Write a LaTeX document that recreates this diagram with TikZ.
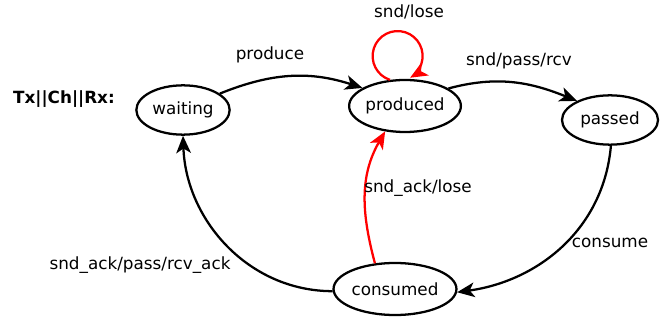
\documentclass[tikz,border=0pt]{standalone}
\usepackage{fontspec}
\setmainfont{DejaVu Sans}
\usetikzlibrary{shapes.geometric,arrows.meta}

\begin{document}
\begin{tikzpicture}[x=0.75pt,y=-0.75pt,
  font=\fontsize{12.6}{15}\selectfont,
  state/.style={ellipse,draw,line width=1.7pt,inner sep=0pt},
  trans/.style={line width=1.7pt,-{Stealth[length=13pt,width=11pt,inset=3.5pt]}},
  lose/.style={trans,red},
  lbl/.style={inner sep=0pt}]
  \useasboundingbox (0,0) rectangle (660,320);

  \node [lbl,font=\fontsize{12.6}{15}\selectfont\bfseries] (title) at (64,99) {Tx||Ch||Rx:};

  \node [state,minimum width=70pt,minimum height=37pt] (waiting) at (183,110) {waiting};
  \node [state,minimum width=82pt,minimum height=39pt] (produced) at (405,106) {produced};
  \node [state,minimum width=72pt,minimum height=37pt] (passed) at (610,120) {passed};
  \node [state,minimum width=79pt,minimum height=39pt] (consumed) at (395,289) {consumed};

  \draw [trans] (waiting.24) to [out=22,in=162] (produced.157);
  \node [lbl] (produce) at (270,55) {produce};

  \draw [trans] (produced.22) to [out=15,in=158] (passed.150);
  \node [lbl] (sndpass) at (519,61) {snd/pass/rcv};

  \draw [lose] (produced.120) arc [start angle=108,end angle=420,radius=25];
  \node [lbl] (sndlose) at (409,12) {snd/lose};

  \draw [trans] (passed.-88) to [out=-95,in=8] (consumed.-3);
  \node [lbl] (consume) at (610,243) {consume};

  \draw [trans] (consumed.182) to [out=180,in=-88] (waiting.-90);
  \node [lbl] (ackpass) at (140,265) {snd\_ack/pass/rcv\_ack};

  \draw [lose] (consumed.128) to [out=105,in=-120] (produced.-128);
  \node [lbl] (acklose) at (418,188) {snd\_ack/lose};

\end{tikzpicture}
\end{document}
